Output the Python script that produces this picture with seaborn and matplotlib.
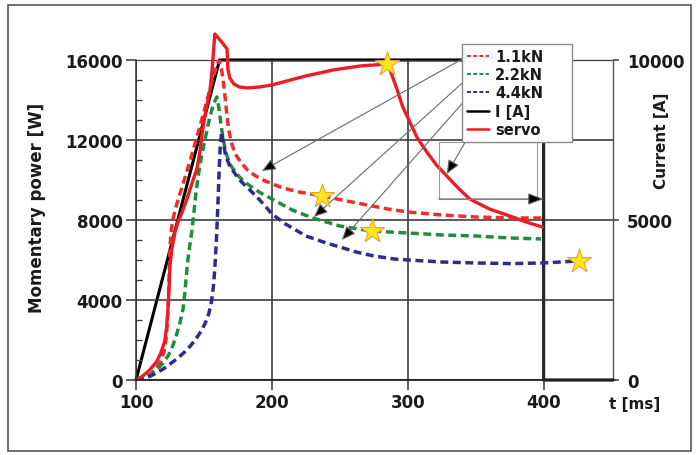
import matplotlib
matplotlib.use("Agg")
import matplotlib.pyplot as plt
import seaborn as sns
from matplotlib.lines import Line2D
from matplotlib.patches import Rectangle
from matplotlib.ticker import MultipleLocator, FixedLocator

# ---------------- data ----------------
t_11 = [100, 105, 110, 114, 118, 120.5, 122, 123, 123.8, 124.3, 124.8, 125.5, 127, 130, 135, 140, 145, 150, 155, 158, 161,
        163, 165, 166.5, 168, 170, 173, 177, 182, 188, 195, 208, 220, 237, 255, 270, 285, 300, 325, 350, 375, 398]
p_11 = [0, 80, 250, 500, 900, 1400, 2000, 2800, 3800, 5000, 6200, 7200, 8000, 8800, 9900, 11000, 12200, 13400, 14700, 15400, 16000,
        15500, 14500, 13500, 12600, 11900, 11300, 10900, 10500, 10200, 9950, 9600, 9400, 9200, 8950, 8750, 8550, 8400, 8250, 8150, 8100, 8100]

t_22 = [100, 105, 110, 115, 120, 124, 127, 130, 132.5, 134.6, 136, 137, 138, 139.5, 141, 142.5, 144, 146, 148, 151, 154, 157, 159.5,
        161, 162.5, 164, 166, 169, 174, 179, 186, 193, 200, 215, 230, 250, 273, 300, 325, 350, 375, 398]
p_22 = [0, 80, 250, 500, 850, 1250, 1700, 2300, 2900, 3550, 4400, 5200, 5900, 6700, 7400, 8300, 9300, 10300, 11100, 12100, 13050, 13800, 14150,
        13600, 12800, 12100, 11400, 10800, 10300, 9950, 9600, 9300, 9050, 8500, 8100, 7700, 7450, 7350, 7250, 7200, 7100, 7050]

t_44 = [100, 105, 110, 115, 120, 125, 130, 135, 140, 144, 148, 151, 153.5, 155.5, 157, 158, 159, 159.8, 160.5, 161.2, 162, 163,
        164.5, 166, 169, 173, 177, 183, 189, 195, 200, 210, 225, 240, 250, 262, 275, 290, 300, 325, 350, 375, 400, 425]
p_44 = [0, 60, 180, 350, 550, 800, 1050, 1350, 1700, 2050, 2450, 2850, 3300, 3900, 4700, 5600, 6800, 8000, 9200, 10500, 11700, 12400,
        11800, 11200, 10700, 10300, 9950, 9550, 9150, 8700, 8300, 7800, 7200, 6850, 6650, 6400, 6200, 6050, 6000, 5900, 5850, 5820, 5850, 5950]

t_servo = [100, 105, 110, 115, 118, 121, 122.5, 123.5, 124.3, 125, 126.5, 128.7, 131, 134, 137.5, 141, 144.8, 147, 149, 151.5, 154.4, 156, 158,
           163, 167, 167.6, 169, 172, 176, 182, 191, 200, 211, 225, 245, 265, 285,
           288, 292, 296, 301.5, 307, 314, 321, 328.7, 337, 345.6, 360, 375, 387, 399]
p_servo = [0, 200, 500, 900, 1300, 1900, 2600, 3550, 4600, 5700, 6600, 7400, 7900, 8400, 9050, 9800, 10550, 11400, 12500, 13500, 14450, 15500, 17300,
           16900, 16550, 15550, 15100, 14800, 14650, 14600, 14650, 14750, 14950, 15200, 15500, 15700, 15800,
           15300, 14550, 13700, 12900, 12100, 11400, 10750, 10200, 9600, 9050, 8550, 8200, 7900, 7650]

t_I = [100, 161.5, 400, 400, 451]
i_A = [0, 10000, 10000, 0, 0]

star_t = [285, 237, 273.5, 426]
star_p = [15800, 9200, 7450, 5950]

labels = ["1.1kN", "2.2kN", "4.4kN", "I [A]", "servo"]
x_ticks = [100, 200, 300, 400]
y_ticks = [0, 4000, 8000, 12000, 16000]
y2_ticks = [0, 5000, 10000]

# ---------------- style ----------------
sns.set_theme(style="white")
plt.rcParams["font.family"] = ["DejaVu Sans"]
plt.rcParams["font.weight"] = "bold"

C11 = "#ee2e28"
C22 = "#1f8c3e"
C44 = "#2d2b8e"
CSV = "#ec1c24"
TXT = "#1a1a1a"

fig = plt.figure(figsize=(7, 4.56), dpi=100)
pos = [0.1943, 0.1645, 0.6814, 0.7018]
ax = fig.add_axes(pos)
ax2 = ax.twinx()
ax.set_zorder(ax2.get_zorder() + 1)
ax.patch.set_visible(False)

dash = (0, (2.3, 1.3))
sns.lineplot(x=t_11, y=p_11, ax=ax, color=C11, lw=2.5, linestyle=dash,
             estimator=None, sort=False, legend=False)
sns.lineplot(x=t_22, y=p_22, ax=ax, color=C22, lw=2.5, linestyle=dash,
             estimator=None, sort=False, legend=False)
sns.lineplot(x=t_44, y=p_44, ax=ax, color=C44, lw=2.5, linestyle=dash,
             estimator=None, sort=False, legend=False)
sns.lineplot(x=t_servo, y=p_servo, ax=ax, color=CSV, lw=2.4,
             estimator=None, sort=False, legend=False, clip_on=False)
sns.lineplot(x=t_I, y=i_A, ax=ax2, color="black", lw=2.2,
             estimator=None, sort=False, legend=False, zorder=3, clip_on=False)

sns.scatterplot(x=star_t, y=star_p, ax=ax, marker="*", s=330, color="#ffe61a",
                edgecolor="#e8a040", linewidth=0.8, zorder=6, clip_on=False,
                legend=False)

# ---------------- axes ----------------
ax.set_xlim(100, 451)
ax.set_ylim(0, 16000)
ax2.set_ylim(0, 10000)
ax.xaxis.set_major_locator(FixedLocator(x_ticks))
ax.yaxis.set_major_locator(FixedLocator(y_ticks))
ax.yaxis.set_minor_locator(MultipleLocator(1000))
ax2.yaxis.set_major_locator(FixedLocator(y2_ticks))

ax.grid(True, which="major", color="#353535", lw=1.15)
ax.tick_params(axis="both", which="major", labelsize=12, colors="#333",
               labelcolor=TXT, left=True, bottom=True, direction="out",
               length=7, width=1.1, pad=2.5)
ax.tick_params(axis="y", which="minor", left=True, direction="in", length=4,
               width=1, color="#444")
ax2.tick_params(axis="y", which="major", labelsize=12, right=True,
                direction="out", length=4, width=1.1, pad=6, labelcolor=TXT,
                colors="#333")
for lab in ax.get_xticklabels() + ax.get_yticklabels() + ax2.get_yticklabels():
    lab.set_fontweight("bold")

for s in ["top", "right"]:
    ax.spines[s].set_visible(False)
ax.spines["left"].set_color("#333")
ax.spines["bottom"].set_color("#222")
ax.spines["left"].set_linewidth(1.1)
ax.spines["bottom"].set_linewidth(1.3)
ax2.spines["left"].set_visible(False)
ax2.spines["bottom"].set_visible(False)
ax2.spines["top"].set_color("#7a7a7a")
ax2.spines["right"].set_color("#555")
ax2.spines["top"].set_linewidth(1.0)
ax2.spines["right"].set_linewidth(1.0)

ax.set_xlabel("")
ax.set_ylabel("Momentary power [W]", fontsize=12, fontweight="bold", color=TXT)
ax.yaxis.set_label_coords(-0.188, 0.54)
ax2.set_ylabel("Current [A]", fontsize=11, fontweight="bold", color=TXT)
ax2.yaxis.set_label_coords(1.085, 0.75)
ax.text(1.046, -0.075, "t [ms]", transform=ax.transAxes, ha="center",
        va="center", fontsize=11, fontweight="bold", color=TXT)

# ---------------- legend ----------------
handles = [
    Line2D([], [], color=C11, lw=1.4, ls=(0, (2, 1.2))),
    Line2D([], [], color=C22, lw=1.4, ls=(0, (2, 1.2))),
    Line2D([], [], color=C44, lw=1.4, ls=(0, (2, 1.2))),
    Line2D([], [], color="black", lw=1.8),
    Line2D([], [], color=CSV, lw=1.8),
]
leg = ax.legend(handles, labels, loc="upper left",
                bbox_to_anchor=(0.683, 0.759, 0.231, 0.291), mode="expand",
                frameon=True, fancybox=False, edgecolor="#8a8a8a", framealpha=1,
                prop=dict(weight="bold", size=10.5), handlelength=1.5,
                handletextpad=0.45, labelspacing=0.22, borderpad=0.35,
                borderaxespad=0)
leg.get_frame().set_linewidth(1.0)
leg.set_zorder(10)
for txt in leg.get_texts():
    txt.set_color(TXT)

# ---------------- leader lines ----------------
def leader(tip, start):
    ax.annotate("", xy=tip, xytext=start, annotation_clip=False,
                arrowprops=dict(arrowstyle="-|>,head_length=0.7,head_width=0.3",
                                lw=0.8, edgecolor="#6a6a6a", facecolor="black",
                                shrinkA=0, shrinkB=0), zorder=5)

leader((192.6, 10450), (350.7, 16450))
leader((230.9, 8150), (350.7, 15500))
leader((251.5, 7000), (350.7, 14650))
leader((328.7, 10300), (350.0, 12800))

box = Rectangle((322.8, 9050), 72, 2850, fill=False, ec="#9a9a9a", lw=0.8, zorder=4)
ax.add_patch(box)
ax.annotate("", xy=(400, 9050), xytext=(322.8, 9050), annotation_clip=False,
            arrowprops=dict(arrowstyle="-|>,head_length=0.8,head_width=0.3",
                            lw=0.8, edgecolor="#6a6a6a", facecolor="black",
                            shrinkA=0, shrinkB=0), zorder=5)

# outer frame
fig.add_artist(Rectangle((0.012, 0.008), 0.975, 0.978, transform=fig.transFigure,
                         fill=False, ec="#555555", lw=1.2))

fig.savefig("out.png", dpi=100)
